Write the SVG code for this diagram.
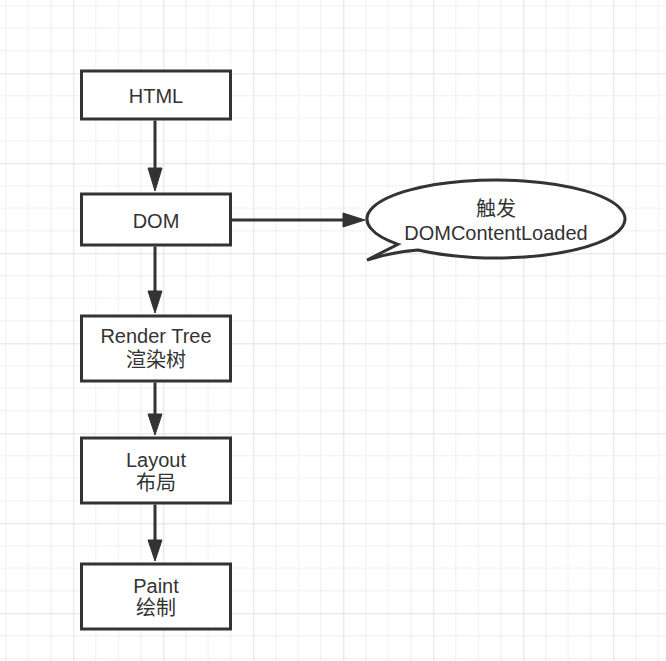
<svg xmlns="http://www.w3.org/2000/svg" width="666" height="661" viewBox="0 0 666 661">
<style>
.box{fill:#fff;stroke:#333;stroke-width:3}
.lbl{font-family:"Liberation Sans","Noto Sans CJK SC",sans-serif;font-size:20px;fill:#333;text-anchor:middle}
.edge{stroke:#333;stroke-width:3;fill:none}
.head{fill:#333;stroke:#333;stroke-width:1}
.minor{stroke:#efefef;stroke-width:1;fill:none}
.major{stroke:#e2e2e2;stroke-width:1;fill:none}
</style>
<defs>
<pattern id="grid" patternUnits="userSpaceOnUse" x="73.3" y="73.3" width="90" height="90">
<path class="minor" d="M22.5,0V90M45,0V90M67.5,0V90M0,22.5H90M0,45H90M0,67.5H90"/>
<path class="major" d="M0.5,0V90M0,0.5H90"/>
</pattern>
</defs>
<rect width="666" height="661" fill="#fff"/>
<rect width="666" height="661" fill="url(#grid)"/>
<g id="connectors">
<path class="edge" d="M155,120.5V170"/>
<polygon class="head" points="148,168 162,168 155,191"/>
<path class="edge" d="M155,246.5V293"/>
<polygon class="head" points="148,291 162,291 155,313"/>
<path class="edge" d="M155,382.5V416"/>
<polygon class="head" points="148,414 162,414 155,435"/>
<path class="edge" d="M155,504.5V542"/>
<polygon class="head" points="148,540 162,540 155,561"/>
<path class="edge" d="M232,220H345"/>
<polygon class="head" points="343,213 343,227 365,220"/>
</g>
<g id="html">
<rect class="box" x="81.5" y="71" width="149" height="48"/>
<text class="lbl" x="156" y="103">HTML</text>
</g>
<g id="dom">
<rect class="box" x="81.5" y="194" width="149" height="51"/>
<text class="lbl" x="156" y="228">DOM</text>
</g>
<g id="render">
<rect class="box" x="81.5" y="316" width="149" height="65"/>
<text class="lbl" x="156" y="343">Render Tree</text>
<text class="lbl" x="156" y="367">渲染树</text>
</g>
<g id="layout">
<rect class="box" x="81.5" y="438" width="149" height="65"/>
<text class="lbl" x="156" y="467">Layout</text>
<text class="lbl" x="156" y="490">布局</text>
</g>
<g id="paint">
<rect class="box" x="81.5" y="564" width="149" height="65"/>
<text class="lbl" x="156" y="593">Paint</text>
<text class="lbl" x="156" y="615">绘制</text>
</g>
<g id="callout">
<path class="box" stroke-width="2.5" d="M418,250.06 A129 39 0 1 0 398,244.36 L367,260 Q392,252 418,250.06 Z"/>
<text class="lbl" x="496" y="216">触发</text>
<text class="lbl" x="496" y="240">DOMContentLoaded</text>
</g>
</svg>
